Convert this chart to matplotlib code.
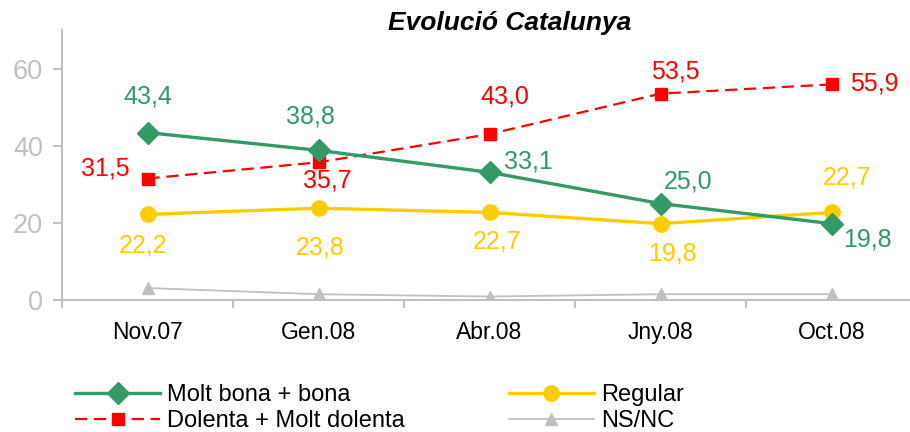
import matplotlib
matplotlib.use("Agg")

import matplotlib.pyplot as plt
from matplotlib.ticker import FixedLocator

# ================= DATA =================
CATEGORIES = ["Nov.07", "Gen.08", "Abr.08", "Jny.08", "Oct.08"]

MOLT_BONA = [43.4, 38.8, 33.1, 25.0, 19.8]
DOLENTA = [31.5, 35.7, 43.0, 53.5, 55.9]
REGULAR = [22.2, 23.8, 22.7, 19.8, 22.7]
NSNC = [3.1, 1.5, 0.9, 1.5, 1.5]

SERIES_NAMES = ["Molt bona + bona", "Dolenta + Molt dolenta", "Regular", "NS/NC"]
Y_TICKS = [0, 20, 40, 60]
TITLE = "Evolució Catalunya"
# =========================================

GREEN = "#339966"
RED = "#FF0000"
YELLOW = "#FFCC00"
GREY = "#C0C0C0"

# label offsets in pixels (dx, dy), dy positive = up
OFF_GREEN = [(0, 36), (-8, 34), (39, 11), (28, 22), (36, -16)]
OFF_RED = [(-42, 10), (9, -18), (15, 38), (15, 22), (43, 1)]
OFF_YELLOW = [(-4, -31), (2, -39), (8, -29), (12, -30), (15, 35)]


def fmt(v: float) -> str:
    return f"{v:.1f}".replace(".", ",")


def main():
    plt.rcParams["font.family"] = ["Liberation Sans", "DejaVu Sans"]

    fig = plt.figure(figsize=(9.10, 4.32), dpi=100)
    ax = fig.add_axes([62 / 910, 132 / 432, 855 / 910, 270 / 432])

    x = list(range(len(CATEGORIES)))

    l1, = ax.plot(x, MOLT_BONA, color=GREEN, lw=2.4, marker="D", ms=11,
                  zorder=4, label=SERIES_NAMES[0])
    l2, = ax.plot(x, DOLENTA, color=RED, lw=1.6, ls=(0, (5.5, 3)), marker="s",
                  ms=8, zorder=3, label=SERIES_NAMES[1])
    l3, = ax.plot(x, REGULAR, color=YELLOW, lw=2.4, marker="o", ms=11,
                  zorder=3, label=SERIES_NAMES[2])
    l4, = ax.plot(x, NSNC, color=GREY, lw=1.3, marker="^", ms=9,
                  zorder=2, label=SERIES_NAMES[3])

    for vals, offs, col in [(MOLT_BONA, OFF_GREEN, GREEN),
                            (DOLENTA, OFF_RED, RED),
                            (REGULAR, OFF_YELLOW, YELLOW)]:
        for xi, v, (dx, dy) in zip(x, vals, offs):
            ax.annotate(fmt(v), (xi, v), xytext=(dx, dy),
                        textcoords="offset pixels", ha="center", va="center",
                        color=col, fontsize=18)

    ax.set_xlim(-0.5, len(CATEGORIES) - 0.5)
    ax.set_ylim(0, 70)
    ax.set_yticks(Y_TICKS)
    ax.set_xticks(x)
    ax.set_xticklabels(CATEGORIES, fontsize=16.5)
    ax.xaxis.set_minor_locator(FixedLocator([i - 0.5 for i in range(len(CATEGORIES) + 1)]))

    for side in ["top", "right"]:
        ax.spines[side].set_visible(False)
    for side in ["left", "bottom"]:
        ax.spines[side].set_color(GREY)
        ax.spines[side].set_linewidth(1.5)

    ax.tick_params(axis="y", colors=GREY, labelsize=19.5, length=6.5, width=1.5, pad=7)
    ax.tick_params(axis="x", which="major", length=0, pad=15, labelcolor="black")
    ax.tick_params(axis="x", which="minor", length=6, width=1.5, color=GREY)

    fig.text(510 / 910, 1 - 23 / 432, TITLE, ha="center", va="center",
             fontsize=19, fontweight="bold", fontstyle="italic")

    fig.legend(handles=[l1, l2, l3, l4], loc="upper left",
               bbox_to_anchor=(75 / 910, 1 - 384 / 432), ncol=2, frameon=False,
               prop={"size": 17}, handlelength=3.6,
               handletextpad=0.3, columnspacing=4.4, labelspacing=0.17,
               borderpad=0, borderaxespad=0)

    fig.savefig("out.png", dpi=100)
    plt.close(fig)


if __name__ == "__main__":
    main()
